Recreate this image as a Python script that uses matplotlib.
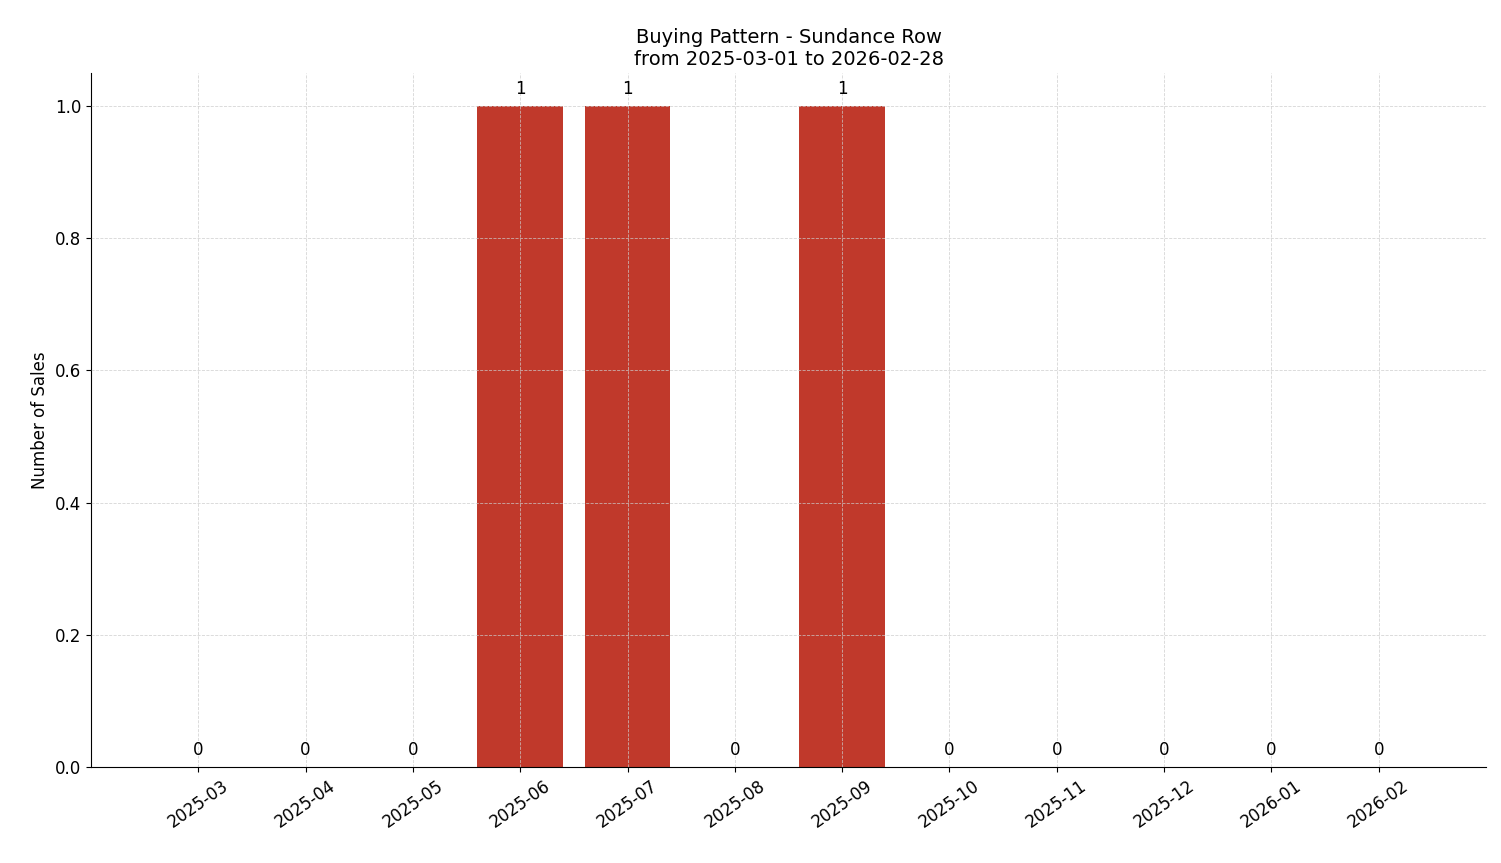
import matplotlib
matplotlib.use("Agg")
import matplotlib.pyplot as plt

months = ["2025-03","2025-04","2025-05","2025-06","2025-07","2025-08",
          "2025-09","2025-10","2025-11","2025-12","2026-01","2026-02"]
sales = [0,0,0,1,1,0,1,0,0,0,0,0]

fig = plt.figure(figsize=(15.01, 8.63), dpi=100)
ax = fig.add_axes([91/1501, 1-767/863, (1486-91)/1501, (767-73)/863])
x = list(range(len(months)))
bars = ax.bar(x, sales, width=0.8, color="#c0392b")
for xi, v in zip(x, sales):
    ax.text(xi, v + 0.012, str(v), ha="center", va="bottom", fontsize=12)
ax.set_xticks(x)
ax.set_xticklabels(months, rotation=35, fontsize=12)
ax.tick_params(axis="y", labelsize=12)
ax.set_xlim(-1, 12)
ax.set_ylim(0, 1.05)
ax.set_ylabel("Number of Sales", fontsize=12)
ax.set_title("Buying Pattern - Sundance Row\nfrom 2025-03-01 to 2026-02-28", fontsize=14)
ax.grid(True, linestyle="--", linewidth=0.6, color="#cccccc", alpha=0.8)
ax.set_axisbelow(False)
for s in ["top", "right"]:
    ax.spines[s].set_visible(False)
fig.savefig("out.png", dpi=100)
